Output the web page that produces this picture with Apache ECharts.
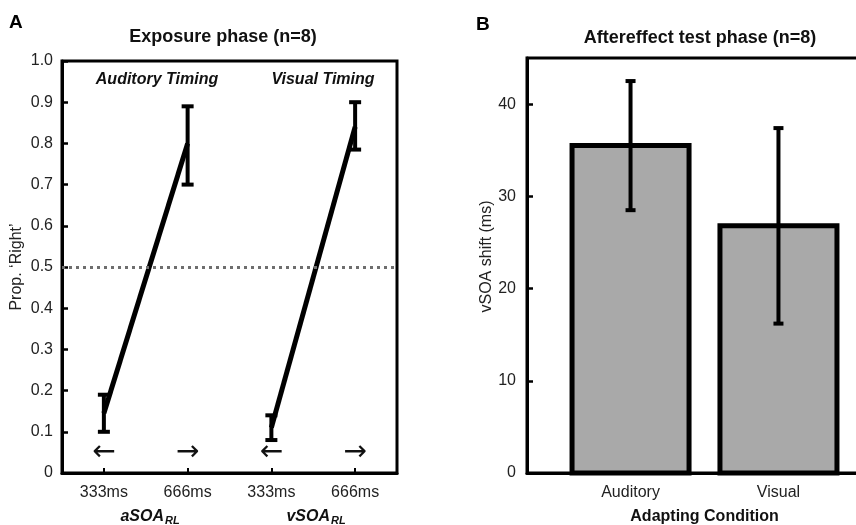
<!DOCTYPE html>
<html>
<head>
<meta charset="utf-8">
<script src="https://cdn.jsdelivr.net/npm/echarts@6/dist/echarts.min.js"></script>
<style>html,body{margin:0;padding:0;background:#fff}#c{width:856px;height:525px}</style>
</head>
<body>
<div id="c"></div>
<script>
// ---- Panel A data ----
const categoriesA = ['333ms', '666ms', '333ms', '666ms'];
const meanA = [0.145, 0.80, 0.11, 0.84];
const errLowA = [0.10, 0.70, 0.08, 0.785];
const errHighA = [0.19, 0.89, 0.14, 0.90];
const arrowsA = ['←', '→', '←', '→'];
const arrowLevelA = 0.05;
const refLineA = 0.5;
const yTicksA = [0, 0.1, 0.2, 0.3, 0.4, 0.5, 0.6, 0.7, 0.8, 0.9, 1.0];

// ---- Panel B data ----
const conditionsB = ['Auditory', 'Visual'];
const positionsB = [1, 2];
const shiftB = [35.5, 26.8];
const errLowB = [28.5, 16.2];
const errHighB = [42.5, 37.4];
const yTicksB = [0, 10, 20, 30, 40];

const FONT = 'Liberation Sans, Arial, Helvetica, sans-serif';

function errRender(capHalf, lw) {
  return function (params, api) {
    const x = api.value(0);
    const lo = api.coord([x, api.value(1)]);
    const hi = api.coord([x, api.value(2)]);
    const st = { stroke: '#000', lineWidth: lw };
    return {
      type: 'group',
      children: [
        { type: 'line', shape: { x1: lo[0], y1: lo[1], x2: hi[0], y2: hi[1] }, style: st },
        { type: 'line', shape: { x1: lo[0] - capHalf, y1: lo[1], x2: lo[0] + capHalf, y2: lo[1] }, style: st },
        { type: 'line', shape: { x1: hi[0] - capHalf, y1: hi[1], x2: hi[0] + capHalf, y2: hi[1] }, style: st }
      ]
    };
  };
}

const chart = echarts.init(document.getElementById('c'), null, { renderer: 'canvas' });

const seriesA1 = meanA.map((v, i) => (i < 2 ? v : null));
const seriesA2 = meanA.map((v, i) => (i >= 2 ? v : null));

chart.setOption({
  animation: false,
  backgroundColor: '#fff',
  textStyle: { fontFamily: FONT },
  grid: [
    { left: 62, top: 61, width: 335, height: 412, show: true, borderColor: '#000', borderWidth: 3, backgroundColor: 'transparent', outerBoundsMode: 'none' },
    { left: 527, top: 58, width: 355, height: 415, show: true, borderColor: '#000', borderWidth: 3, backgroundColor: 'transparent', outerBoundsMode: 'none' }
  ],
  xAxis: [
    {
      gridIndex: 0, type: 'category', data: categoriesA, boundaryGap: true,
      axisLine: { show: true, lineStyle: { color: '#000', width: 3 } },
      axisTick: { show: true, inside: true, alignWithLabel: true, length: 5, lineStyle: { color: '#000', width: 2 } },
      axisLabel: { color: '#222', fontSize: 16, fontFamily: FONT, margin: 12 },
      splitLine: { show: false }
    },
    {
      gridIndex: 1, type: 'value', min: 0.3, max: 2.7,
      axisLine: { show: true, lineStyle: { color: '#000', width: 3 } },
      axisTick: { show: true, inside: true, length: 5, lineStyle: { color: '#000', width: 2 }, customValues: positionsB },
      axisLabel: {
        color: '#222', fontSize: 16, fontFamily: FONT, margin: 12, customValues: positionsB,
        formatter: v => conditionsB[positionsB.indexOf(v)] || ''
      },
      splitLine: { show: false },
      name: 'Adapting Condition', nameLocation: 'middle', nameGap: 36,
      nameTextStyle: { color: '#111', fontSize: 16, fontWeight: 'bold', fontFamily: FONT }
    }
  ],
  yAxis: [
    {
      gridIndex: 0, type: 'value', min: 0, max: 1, interval: 0.1,
      axisLine: { show: true, lineStyle: { color: '#000', width: 3 } },
      axisTick: { show: true, inside: true, length: 6, lineStyle: { color: '#000', width: 2.5 } },
      axisLabel: {
        color: '#222', fontSize: 16, fontFamily: FONT, margin: 9,
        formatter: v => (v === 0 ? '0' : v.toFixed(1))
      },
      splitLine: { show: false },
      name: 'Prop. \u2018Right\u2019', nameLocation: 'middle', nameGap: 37,
      nameTextStyle: { color: '#222', fontSize: 16, fontFamily: FONT }
    },
    {
      gridIndex: 1, type: 'value', min: 0, max: 45,
      axisLine: { show: true, lineStyle: { color: '#000', width: 3 } },
      axisTick: { show: true, inside: true, length: 6, lineStyle: { color: '#000', width: 2.5 }, customValues: yTicksB },
      axisLabel: { color: '#222', fontSize: 16, fontFamily: FONT, margin: 11, customValues: yTicksB },
      splitLine: { show: false },
      name: 'vSOA shift (ms)', nameLocation: 'middle', nameGap: 32,
      nameTextStyle: { color: '#222', fontSize: 16, fontFamily: FONT, padding: [0, 0, 0, 18] }
    }
  ],
  series: [
    {
      type: 'line', xAxisIndex: 0, yAxisIndex: 0, data: seriesA1, showSymbol: false, connectNulls: false,
      lineStyle: { color: '#000', width: 5 }, z: 3,
      markLine: {
        silent: true, symbol: 'none', label: { show: false },
        lineStyle: { color: '#6e6e6e', width: 3, type: [3, 4] },
        data: [{ yAxis: refLineA }]
      }
    },
    {
      type: 'line', xAxisIndex: 0, yAxisIndex: 0, data: seriesA2, showSymbol: false, connectNulls: false,
      lineStyle: { color: '#000', width: 5 }, z: 3
    },
    {
      type: 'custom', xAxisIndex: 0, yAxisIndex: 0, z: 4,
      data: meanA.map((m, i) => [i, errLowA[i], errHighA[i]]),
      encode: { x: 0, y: [1, 2] },
      renderItem: errRender(6, 4)
    },
    {
      type: 'custom', xAxisIndex: 0, yAxisIndex: 0, z: 4,
      data: arrowsA.map((a, i) => [i, arrowLevelA]),
      encode: { x: 0, y: 1 },
      renderItem: function (params, api) {
        const p = api.coord([api.value(0), api.value(1)]);
        return {
          type: 'text', x: p[0], y: p[1],
          style: { text: arrowsA[params.dataIndex], fill: '#111', font: '28px DejaVu Sans, sans-serif', align: 'center', verticalAlign: 'middle' }
        };
      }
    },
    {
      type: 'custom', xAxisIndex: 1, yAxisIndex: 1, z: 2,
      data: positionsB.map((x, i) => [x, shiftB[i]]),
      encode: { x: 0, y: 1 },
      renderItem: function (params, api) {
        const x = api.value(0);
        const top = api.coord([x, api.value(1)]);
        const base = api.coord([x, 0]);
        const w = 117;
        return {
          type: 'rect',
          shape: { x: top[0] - w / 2, y: top[1], width: w, height: base[1] - top[1] },
          style: { fill: '#a9a9a9', stroke: '#000', lineWidth: 5 }
        };
      }
    },
    {
      type: 'custom', xAxisIndex: 1, yAxisIndex: 1, z: 4,
      data: positionsB.map((x, i) => [x, errLowB[i], errHighB[i]]),
      encode: { x: 0, y: [1, 2] },
      renderItem: errRender(5, 4)
    }
  ],
  graphic: [
    { type: 'text', left: 9, top: 13, style: { text: 'A', font: 'bold 19px ' + FONT, fill: '#000' } },
    { type: 'text', left: 476, top: 15, style: { text: 'B', font: 'bold 19px ' + FONT, fill: '#000' } },
    { type: 'text', x: 223, y: 37, style: { text: 'Exposure phase (n=8)', font: 'bold 18px ' + FONT, fill: '#111', align: 'center', verticalAlign: 'middle' } },
    { type: 'text', x: 700, y: 38, style: { text: 'Aftereffect test phase (n=8)', font: 'bold 18px ' + FONT, fill: '#111', align: 'center', verticalAlign: 'middle' } },
    { type: 'text', x: 157, y: 80, style: { text: 'Auditory Timing', font: 'italic bold 16px ' + FONT, fill: '#111', align: 'center', verticalAlign: 'middle' } },
    { type: 'text', x: 323, y: 80, style: { text: 'Visual Timing', font: 'italic bold 16px ' + FONT, fill: '#111', align: 'center', verticalAlign: 'middle' } },
    {
      type: 'text', x: 150, y: 517,
      style: {
        text: '{m|aSOA}{s|RL}', align: 'center', verticalAlign: 'middle',
        rich: { m: { font: 'italic bold 16px ' + FONT, fill: '#111' }, s: { font: 'italic bold 11px ' + FONT, fill: '#111', padding: [8, 0, 0, 1] } }
      }
    },
    {
      type: 'text', x: 316, y: 517,
      style: {
        text: '{m|vSOA}{s|RL}', align: 'center', verticalAlign: 'middle',
        rich: { m: { font: 'italic bold 16px ' + FONT, fill: '#111' }, s: { font: 'italic bold 11px ' + FONT, fill: '#111', padding: [8, 0, 0, 1] } }
      }
    }
  ]
});
</script>
</body>
</html>
